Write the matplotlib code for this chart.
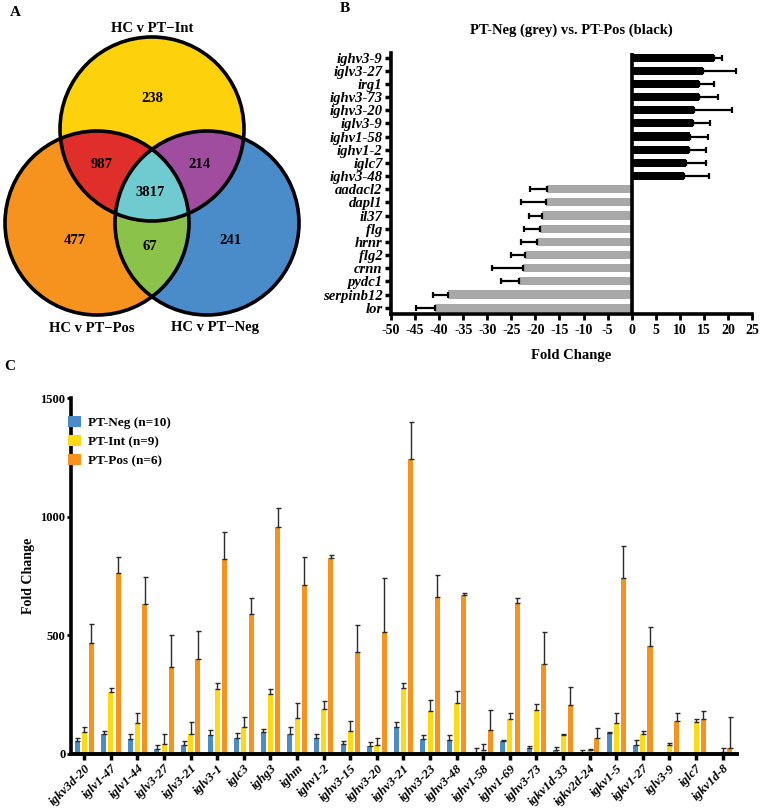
import matplotlib
matplotlib.use("Agg")
import matplotlib.pyplot as plt
import numpy as np
from matplotlib.patches import Circle

plt.rcParams["font.family"] = ["Liberation Serif", "DejaVu Serif"]
plt.rcParams["font.weight"] = "bold"
plt.rcParams["axes.labelweight"] = "bold"
plt.rcParams["axes.unicode_minus"] = False

# ---- panel A: venn counts
venn_sets = ["HC v PT\u2212Int", "HC v PT\u2212Pos", "HC v PT\u2212Neg"]
venn_counts = {"Int": 238, "Pos": 477, "Neg": 241, "Int&Pos": 987,
               "Int&Neg": 214, "Pos&Neg": 67, "all": 3817}

# ---- panel B
b_genes = ["ighv3-9", "iglv3-27", "irg1", "ighv3-73", "ighv3-20", "iglv3-9",
           "ighv1-58", "ighv1-2", "iglc7", "ighv3-48", "aadacl2", "dapl1",
           "il37", "flg", "hrnr", "flg2", "crnn", "pydc1", "serpinb12", "lor"]
b_fc = [17.1, 14.9, 13.9, 13.9, 13.0, 12.8, 12.1, 11.9, 11.2, 10.9,
        -17.6, -17.9, -18.6, -19.1, -19.7, -22.1, -22.6, -23.5, -38.1, -40.8]
b_err = [1.7, 6.7, 3.3, 4.0, 7.9, 3.5, 3.7, 3.5, 4.2, 5.2,
         3.6, 5.1, 2.7, 3.3, 3.2, 3.0, 6.4, 3.6, 3.2, 4.1]

# ---- panel C
c_genes = ["igkv3d-20", "iglv1-47", "iglv1-44", "iglv3-27", "iglv3-21", "iglv3-1",
           "iglc3", "ighg3", "ighm", "ighv1-2", "ighv3-15", "ighv3-20", "ighv3-21",
           "ighv3-23", "ighv3-48", "ighv1-58", "ighv1-69", "ighv3-73", "igkv1d-33",
           "igkv2d-24", "igkv1-5", "igkv1-27", "iglv3-9", "iglc7", "igkv1d-8"]
neg = [55, 84, 62, 21, 38, 80, 66, 94, 84, 66, 42, 35, 115, 63, 59, 2, 56, 24, 18,
       3, 90, 38, 2, 0, 0]
neg_err = [14, 12, 21, 17, 18, 21, 21, 10, 31, 18, 13, 17, 21, 16, 20, 22, 3, 10,
           10, 14, 3, 20, 0, 0, 0]
intm = [94, 260, 132, 44, 84, 272, 115, 253, 152, 190, 97, 38, 279, 181, 213, 17,
        147, 185, 79, 17, 132, 83, 40, 133, 7]
int_err = [21, 17, 42, 42, 49, 26, 39, 19, 61, 32, 43, 31, 19, 47, 52, 24, 24, 26,
           4, 3, 39, 13, 8, 16, 20]
pos = [466, 761, 632, 368, 399, 820, 590, 955, 712, 824, 428, 515, 1242, 663, 671,
       101, 635, 379, 208, 66, 742, 455, 137, 146, 24]
pos_err = [80, 68, 112, 133, 119, 117, 66, 80, 117, 16, 116, 228, 155, 90, 9, 83,
           21, 134, 76, 45, 133, 82, 34, 37, 130]
c_series = ["PT-Neg (n=10)", "PT-Int (n=9)", "PT-Pos (n=6)"]

W, H = 760, 809
fig = plt.figure(figsize=(W / 100, H / 100), dpi=100)


def box(l, t, r, b):
    return [l / W, 1 - b / H, (r - l) / W, (b - t) / H]


# ================= A: venn
axA = fig.add_axes(box(0, 0, 330, 340))
axA.set_xlim(0, 330)
axA.set_ylim(340, 0)
axA.axis("off")
r = 92
cen = {"Int": (152, 129), "Pos": (97, 223), "Neg": (207, 223)}
xs = np.arange(0, 330, 0.25)
ys = np.arange(0, 340, 0.25)
X, Y = np.meshgrid(xs, ys)
inside = {k: (X - c[0]) ** 2 + (Y - c[1]) ** 2 <= r ** 2 for k, c in cen.items()}
img = np.ones(X.shape + (4,))
img[..., 3] = 0
colors = {
    ("Int",): "#FDD20B", ("Pos",): "#F6921E", ("Neg",): "#4A8BCA",
    ("Int", "Pos"): "#E1302B", ("Int", "Neg"): "#A04E9F", ("Pos", "Neg"): "#8AC24A",
    ("Int", "Pos", "Neg"): "#70CCD0",
}
for combo, col in colors.items():
    m = np.ones(X.shape, bool)
    for k in ["Int", "Pos", "Neg"]:
        m &= inside[k] if k in combo else ~inside[k]
    img[m] = matplotlib.colors.to_rgba(col)
axA.imshow(img, extent=(0, 330, 340, 0), origin="upper", interpolation="bilinear")
for c in cen.values():
    axA.add_patch(Circle(c, r, fill=False, lw=2.6, ec="black"))
fs = 10.5
axA.text(152, 29, venn_sets[0], ha="center", va="center", fontsize=fs)
axA.text(92, 328, venn_sets[1], ha="center", va="center", fontsize=fs)
axA.text(215, 328, venn_sets[2], ha="center", va="center", fontsize=fs)
num_pos = {"Int": (152, 99), "Int&Pos": (102, 165), "Int&Neg": (199, 165),
           "all": (150, 193), "Pos": (75, 240), "Pos&Neg": (150, 246),
           "Neg": (230, 240)}
for k, p in num_pos.items():
    axA.text(p[0], p[1], str(venn_counts[k]), ha="center", va="center", fontsize=fs)

# ================= B: horizontal bars
axB = fig.add_axes(box(391, 53, 752, 314))
yb = np.arange(len(b_genes))
bcol = ["black" if v > 0 else "#A8A8A8" for v in b_fc]
lo = [0 if v > 0 else e for v, e in zip(b_fc, b_err)]
hi = [e if v > 0 else 0 for v, e in zip(b_fc, b_err)]
axB.barh(yb, b_fc, height=0.62, color=bcol, zorder=2)
axB.errorbar(b_fc, yb, xerr=[lo, hi], fmt="none", ecolor="black",
             elinewidth=1.6, capsize=2.5, capthick=1.6, zorder=3)
axB.axvline(0, color="black", lw=2.6, zorder=4)
axB.set_ylim(19.48, -0.35)
axB.set_xlim(-50, 25)
axB.set_xticks(np.arange(-50, 26, 5))
axB.set_yticks(yb)
axB.set_yticklabels(b_genes, fontstyle="italic", fontsize=10.5)
axB.tick_params(axis="x", labelsize=10, width=2, length=4)
axB.tick_params(axis="y", width=2.5, length=4, pad=2)
for s in ["top", "right"]:
    axB.spines[s].set_visible(False)
for s in ["left", "bottom"]:
    axB.spines[s].set_linewidth(2.6)
axB.set_xlabel("Fold Change", fontsize=10.5, labelpad=8)
fig.text(571 / W, 1 - 30 / H, "PT-Neg (grey) vs. PT-Pos (black)", ha="center",
         va="center", fontsize=10.5)

# ================= C: grouped bars
axC = fig.add_axes(box(71, 398, 737, 754))
xc = np.arange(len(c_genes))
wdt = 0.19
off = 0.27
ek = dict(elinewidth=1.0, capsize=1.8, capthick=1.0, ecolor="#2a2a2a")
for vals, errs, dx, col, lab in [(neg, neg_err, -off, "#4A8BCA", c_series[0]),
                                 (intm, int_err, 0, "#FFD914", c_series[1]),
                                 (pos, pos_err, off, "#F6921E", c_series[2])]:
    axC.bar(xc + dx, vals, width=wdt, color=col, label=lab,
            yerr=[np.zeros(len(errs)), errs], error_kw=ek)
axC.set_xlim(-0.5, 24.54)
axC.set_ylim(0, 1500)
axC.set_yticks([0, 500, 1000, 1500])
axC.set_xticks(xc)
axC.set_xticklabels(c_genes, rotation=45, ha="right", rotation_mode="anchor",
                    fontstyle="italic", fontsize=9.3)
axC.tick_params(axis="x", width=2.5, length=4, pad=2)
axC.tick_params(axis="y", width=2, length=3, labelsize=9, pad=1)
for s in ["top", "right"]:
    axC.spines[s].set_visible(False)
axC.spines["left"].set_linewidth(2.6)
axC.spines["bottom"].set_linewidth(2.8)
axC.set_ylabel("Fold Change", fontsize=10, labelpad=4)
axC.legend(loc="upper left", bbox_to_anchor=(56 / W, 1 - 404 / H),
           bbox_transform=fig.transFigure, frameon=False, fontsize=9.5,
           handlelength=1.0, handleheight=0.9, handletextpad=0.5,
           labelspacing=0.45)

# panel letters
fig.text(10 / W, 1 - 13 / H, "A", fontsize=11, va="center")
fig.text(340 / W, 1 - 8 / H, "B", fontsize=11, va="center")
fig.text(4 / W, 1 - 366 / H, "C", fontsize=11, va="center")

fig.savefig("out.png", dpi=100)
